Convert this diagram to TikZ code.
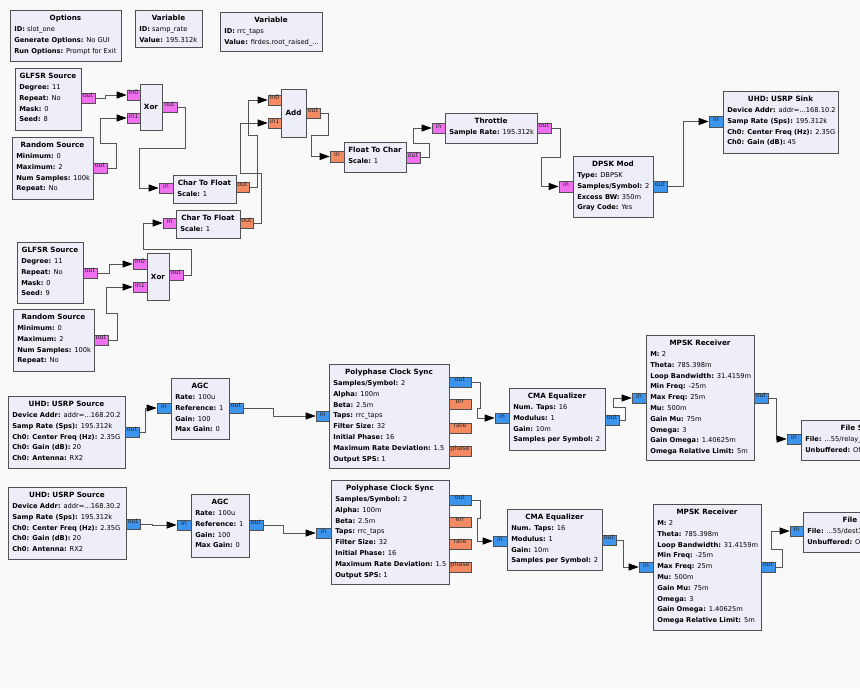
\documentclass[tikz,border=0pt]{standalone}
\usepackage{fontspec}
\setmainfont{DejaVu Sans}
\usetikzlibrary{arrows.meta,fit}
\definecolor{bgc}{HTML}{F9F9F9}
\definecolor{blkfill}{HTML}{EEEEF8}
\definecolor{bytec}{HTML}{F070F0}
\definecolor{floatc}{HTML}{F48A62}
\definecolor{cplxc}{HTML}{3C94EC}
\definecolor{edgec}{HTML}{505050}
\definecolor{wirec}{HTML}{555555}
\newcommand\bfs{\fontsize{6.7}{10.8}\selectfont}
\newcommand\tfs{\fontsize{7.2}{10.8}\selectfont}
\newcommand\kvx[2]{\textbf{#1:} #2}
\tikzset{
 blk/.style={draw=edgec, line width=0.8pt, fill=blkfill, inner sep=0pt},
 ttl/.style={font=\tfs\bfseries, inner sep=0pt, anchor=base},
 bdy/.style={font=\bfs, inner sep=0pt, anchor=north west},
 lbl/.style={font=\tfs\bfseries, inner sep=0pt},
 port/.style={draw=edgec, line width=0.6pt, inner sep=0pt, font=\fontsize{6.3}{6.5}\selectfont, text=black!85},
 pb/.style={port, fill=bytec}, pf/.style={port, fill=floatc}, pc/.style={port, fill=cplxc},
 wire/.style={draw=wirec, line width=0.8pt, -{Triangle[length=10pt,width=7pt,black]}},
}
\newcommand\gblk[5]{%
 \node[blk, fit={#2 #3}] (#1) {};
 \node[ttl] at ([yshift=-11pt]#1.north) {#4};
 \node[bdy] at ([shift={(4.5pt,-14.2pt)}]#1.north west) {\begin{tabular}{@{}l@{}}#5\end{tabular}};
}
\begin{document}
\begin{tikzpicture}[x=1pt,y=-1pt]
\useasboundingbox (0,0) rectangle (860,689);
\fill[bgc] (0,0) rectangle (860,689);
\clip (0,0) rectangle (860,689);

% ---- header blocks
\gblk{opt}{(10,10)}{(121,61)}{Options}{\kvx{ID}{slot\_one}\\ \kvx{Generate Options}{No GUI}\\ \kvx{Run Options}{Prompt for Exit}}
\gblk{v1}{(135,10)}{(202,47)}{Variable}{\kvx{ID}{samp\_rate}\\ \kvx{Value}{195.312k}}
\gblk{v2}{(220,12)}{(322,51)}{Variable}{\kvx{ID}{rrc\_taps}\\ \kvx{Value}{firdes.root\_raised\_...}}

% ---- transmit chain
\gblk{g1}{(15,68)}{(81,130)}{GLFSR Source}{\kvx{Degree}{11}\\ \kvx{Repeat}{No}\\ \kvx{Mask}{0}\\ \kvx{Seed}{8}}
\node[pb, fit={(81,93) (95,103)}] (g1o) {out};
\gblk{r1}{(12,137)}{(93,199)}{Random Source}{\kvx{Minimum}{0}\\ \kvx{Maximum}{2}\\ \kvx{Num Samples}{100k}\\ \kvx{Repeat}{No}}
\node[pb, fit={(93,163) (107,173)}] (r1o) {out};
\node[blk, fit={(140,84) (162,130)}] (x1) {};
\node[lbl] at (x1) {Xor};
\node[pb, fit={(127,90) (140,100)}] (x1a) {in0};
\node[pb, fit={(127,113) (140,123)}] (x1b) {in1};
\node[pb, fit={(162,102) (177,112)}] (x1o) {out};

\gblk{c1}{(173,175)}{(236,203)}{Char To Float}{\kvx{Scale}{1}}
\node[pb, fit={(159,183) (173,193)}] (c1i) {in};
\node[pf, fit={(236,182) (249,192)}] (c1o) {out};
\gblk{c2}{(176,210)}{(240,238)}{Char To Float}{\kvx{Scale}{1}}
\node[pb, fit={(163,218) (176,228)}] (c2i) {in};
\node[pf, fit={(240,218) (253,228)}] (c2o) {out};

\node[blk, fit={(281,89) (306,137)}] (ad) {};
\node[lbl] at (ad) {Add};
\node[pf, fit={(268,95) (281,105)}] (ai0) {in0};
\node[pf, fit={(268,118) (281,128)}] (ai1) {in1};
\node[pf, fit={(306,108) (320,118)}] (ao) {out};

\gblk{fc}{(344,142)}{(406,172)}{Float To Char}{\kvx{Scale}{1}}
\node[pf, fit={(330,151) (344,162)}] (fci) {in};
\node[pb, fit={(406,152) (420,163)}] (fco) {out};
\gblk{th}{(445,113)}{(537,143)}{Throttle}{\kvx{Sample Rate}{195.312k}}
\node[pb, fit={(432,123) (445,133)}] (thi) {in};
\node[pb, fit={(537,123) (551,133)}] (tho) {out};
\gblk{dp}{(573,156)}{(653,217)}{DPSK Mod}{\kvx{Type}{DBPSK}\\ \kvx{Samples/Symbol}{2}\\ \kvx{Excess BW}{350m}\\ \kvx{Gray Code}{Yes}}
\node[pb, fit={(559,181) (573,192)}] (dpi) {in};
\node[pc, fit={(653,181) (667,192)}] (dpo) {out};
\gblk{us}{(723,91)}{(838,153)}{UHD: USRP Sink}{\kvx{Device Addr}{addr=...168.10.2}\\ \kvx{Samp Rate (Sps)}{195.312k}\\ \kvx{Ch0: Center Freq (Hz)}{2.35G}\\ \kvx{Ch0: Gain (dB)}{45}}
\node[pc, fit={(709,116) (723,127)}] (usi) {in};

\gblk{g2}{(17,242)}{(83,303)}{GLFSR Source}{\kvx{Degree}{11}\\ \kvx{Repeat}{No}\\ \kvx{Mask}{0}\\ \kvx{Seed}{9}}
\node[pb, fit={(83,268) (97,278)}] (g2o) {out};
\gblk{r2}{(13,309)}{(94,371)}{Random Source}{\kvx{Minimum}{0}\\ \kvx{Maximum}{2}\\ \kvx{Num Samples}{100k}\\ \kvx{Repeat}{No}}
\node[pb, fit={(94,335) (108,345)}] (r2o) {out};
\node[blk, fit={(147,253) (169,300)}] (x2) {};
\node[lbl] at (x2) {Xor};
\node[pb, fit={(133,259) (147,269)}] (x2a) {in0};
\node[pb, fit={(133,282) (147,292)}] (x2b) {in1};
\node[pb, fit={(169,270) (183,280)}] (x2o) {out};

% ---- receive chain 1
\gblk{s1}{(8,396)}{(125,468)}{UHD: USRP Source}{\kvx{Device Addr}{addr=...168.20.2}\\ \kvx{Samp Rate (Sps)}{195.312k}\\ \kvx{Ch0: Center Freq (Hz)}{2.35G}\\ \kvx{Ch0: Gain (dB)}{20}\\ \kvx{Ch0: Antenna}{RX2}}
\node[pc, fit={(125,427) (139,437)}] (s1o) {out};
\gblk{a1}{(171,378)}{(229,439)}{AGC}{\kvx{Rate}{100u}\\ \kvx{Reference}{1}\\ \kvx{Gain}{100}\\ \kvx{Max Gain}{0}}
\node[pc, fit={(157,403) (171,413)}] (a1i) {in};
\node[pc, fit={(229,403) (243,413)}] (a1o) {out};
\gblk{p1}{(329,364)}{(449,468)}{Polyphase Clock Sync}{\kvx{Samples/Symbol}{2}\\ \kvx{Alpha}{100m}\\ \kvx{Beta}{2.5m}\\ \kvx{Taps}{rrc\_taps}\\ \kvx{Filter Size}{32}\\ \kvx{Initial Phase}{16}\\ \kvx{Maximum Rate Deviation}{1.5}\\ \kvx{Output SPS}{1}}
\node[pc, fit={(316,411) (329,421)}] (p1i) {in};
\node[pc, fit={(449,377) (471,387)}] (p1o) {out};
\node[pf, fit={(449,399) (471,409)}] (p1e) {err};
\node[pf, fit={(449,423) (471,433)}] (p1r) {rate};
\node[pf, fit={(449,446) (471,456)}] (p1p) {phase};
\gblk{q1}{(509,388)}{(605,450)}{CMA Equalizer}{\kvx{Num. Taps}{16}\\ \kvx{Modulus}{1}\\ \kvx{Gain}{10m}\\ \kvx{Samples per Symbol}{2}}
\node[pc, fit={(495,413) (509,423)}] (q1i) {in};
\node[pc, fit={(605,415) (619,425)}] (q1o) {out};
\gblk{m1}{(646,335)}{(754,460)}{MPSK Receiver}{\kvx{M}{2}\\ \kvx{Theta}{785.398m}\\ \kvx{Loop Bandwidth}{31.4159m}\\ \kvx{Min Freq}{-25m}\\ \kvx{Max Freq}{25m}\\ \kvx{Mu}{500m}\\ \kvx{Gain Mu}{75m}\\ \kvx{Omega}{3}\\ \kvx{Gain Omega}{1.40625m}\\ \kvx{Omega Relative Limit}{5m}}
\node[pc, fit={(632,393) (646,403)}] (m1i) {in};
\node[pc, fit={(754,393) (768,403)}] (m1o) {out};
\gblk{f1}{(801,420)}{(915,460)}{File Sink}{\kvx{File}{...55/relay\_...}\\ \kvx{Unbuffered}{Off}}
\node[pc, fit={(787,434) (801,444)}] (f1i) {in};

% ---- receive chain 2
\gblk{s2}{(8,487)}{(126,559)}{UHD: USRP Source}{\kvx{Device Addr}{addr=...168.30.2}\\ \kvx{Samp Rate (Sps)}{195.312k}\\ \kvx{Ch0: Center Freq (Hz)}{2.35G}\\ \kvx{Ch0: Gain (dB)}{20}\\ \kvx{Ch0: Antenna}{RX2}}
\node[pc, fit={(126,519) (140,529)}] (s2o) {out};
\gblk{a2}{(191,494)}{(249,557)}{AGC}{\kvx{Rate}{100u}\\ \kvx{Reference}{1}\\ \kvx{Gain}{100}\\ \kvx{Max Gain}{0}}
\node[pc, fit={(177,520) (191,530)}] (a2i) {in};
\node[pc, fit={(249,520) (263,530)}] (a2o) {out};
\gblk{p2}{(331,480)}{(449,584)}{Polyphase Clock Sync}{\kvx{Samples/Symbol}{2}\\ \kvx{Alpha}{100m}\\ \kvx{Beta}{2.5m}\\ \kvx{Taps}{rrc\_taps}\\ \kvx{Filter Size}{32}\\ \kvx{Initial Phase}{16}\\ \kvx{Maximum Rate Deviation}{1.5}\\ \kvx{Output SPS}{1}}
\node[pc, fit={(316,528) (331,538)}] (p2i) {in};
\node[pc, fit={(449,495) (471,505)}] (p2o) {out};
\node[pf, fit={(449,517) (471,527)}] (p2e) {err};
\node[pf, fit={(449,539) (471,549)}] (p2r) {rate};
\node[pf, fit={(449,562) (471,572)}] (p2p) {phase};
\gblk{q2}{(507,509)}{(602,570)}{CMA Equalizer}{\kvx{Num. Taps}{16}\\ \kvx{Modulus}{1}\\ \kvx{Gain}{10m}\\ \kvx{Samples per Symbol}{2}}
\node[pc, fit={(493,536) (507,546)}] (q2i) {in};
\node[pc, fit={(602,535) (616,545)}] (q2o) {out};
\gblk{m2}{(653,504)}{(761,630)}{MPSK Receiver}{\kvx{M}{2}\\ \kvx{Theta}{785.398m}\\ \kvx{Loop Bandwidth}{31.4159m}\\ \kvx{Min Freq}{-25m}\\ \kvx{Max Freq}{25m}\\ \kvx{Mu}{500m}\\ \kvx{Gain Mu}{75m}\\ \kvx{Omega}{3}\\ \kvx{Gain Omega}{1.40625m}\\ \kvx{Omega Relative Limit}{5m}}
\node[pc, fit={(639,562) (653,572)}] (m2i) {in};
\node[pc, fit={(761,562) (775,572)}] (m2o) {out};
\gblk{f2}{(803,512)}{(917,552)}{File Sink}{\kvx{File}{...55/dest1...}\\ \kvx{Unbuffered}{Off}}
\node[pc, fit={(790,526) (803,536)}] (f2i) {in};

% ---- connectors
\draw[wire] (g1o.east) -- ++(10,0) |- (x1a.west);
\draw[wire] (r1o.east) -- ++(9,0) |- (100,143) |- (x1b.west);
\draw[wire] (x1o.east) -- ++(8,0) |- (139,148) |- (c1i.west);
\draw[wire] (c1o.east) -- ++(8,0) |- (248,135) |- (ai0.west);
\draw[wire] (c2o.east) -- ++(8,0) |- (240,173) |- (ai1.west);
\draw[wire] (ao.east) -- ++(8,0) |- (311,135) |- (fci.west);
\draw[wire] (fco.east) -- ++(9,0) |- (413,143) |- (thi.west);
\draw[wire] (tho.east) -- ++(9,0) |- (541,157) |- (dpi.west);
\draw[wire] (dpo.east) -- ++(16,0) |- (usi.west);
\draw[wire] (g2o.east) -- ++(12,0) |- (x2a.west);
\draw[wire] (r2o.east) -- ++(9,0) |- (106,313) |- (x2b.west);
\draw[wire] (x2o.east) -- ++(8,0) |- (143,249) |- (c2i.west);
\draw[wire] (s1o.east) -- ++(6,0) |- (a1i.west);
\draw[wire] (a1o.east) -- ++(30,0) |- (p1i.west);
\draw[wire] (p1o.east) -- ++(9,0) |- (477,408) |- (q1i.west);
\draw[wire] (q1o.east) -- ++(6,0) |- (613,407) |- (m1i.west);
\draw[wire] (m1o.east) -- ++(8,0) |- (f1i.west);
\draw[wire] (s2o.east) -- ++(12,0) |- (a2i.west);
\draw[wire] (a2o.east) -- ++(20,0) |- (p2i.west);
\draw[wire] (p2o.east) -- ++(9,0) |- (477,518) |- (q2i.west);
\draw[wire] (q2o.east) -- ++(7,0) |- (m2i.west);
\draw[wire] (m2o.east) -- ++(7,0) |- (771,549) |- (f2i.west);
\end{tikzpicture}
\end{document}
